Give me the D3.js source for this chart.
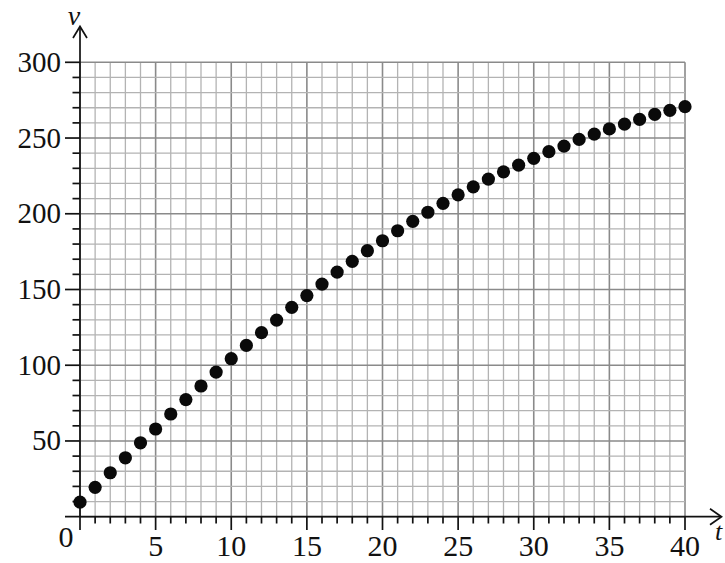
<!DOCTYPE html>
<html>
<head>
<meta charset="utf-8">
<script src="https://cdn.jsdelivr.net/npm/d3@7"></script>
<style>
  body { margin: 0; background: #fff; }
  text { font-family: "Times New Roman", "Liberation Serif", Times, serif; fill: #111; }
</style>
</head>
<body>
<svg id="chart" width="725" height="563"></svg>
<script>
  // data
  const times = d3.range(0, 41)
  const speeds = [
    9.6, 19.4, 29.0, 38.9, 48.8, 57.9, 67.8, 77.3, 86.3, 95.5,
    104.3, 113.1, 121.5, 129.8, 138.2, 146.0, 153.6, 161.5, 168.6, 175.6,
    182.2, 188.8, 195.0, 201.0, 206.9, 212.5, 217.8, 222.9, 227.7, 232.1,
    236.6, 241.0, 244.7, 249.1, 252.6, 256.0, 259.2, 262.3, 265.6, 268.3,
    270.7
  ]
  const xTickLabels = [0, 5, 10, 15, 20, 25, 30, 35, 40]
  const yTickLabels = [50, 100, 150, 200, 250, 300]

  const svg = d3.select('#chart')

  const x = d3.scaleLinear().domain([0, 40]).range([80, 685])
  const y = d3.scaleLinear().domain([0, 300]).range([516.7, 62.3])

  // grid
  const grid = svg.append('g')
  grid.selectAll('line.vx')
    .data(d3.range(0, 41))
    .enter().append('line')
    .attr('x1', d => x(d)).attr('x2', d => x(d))
    .attr('y1', y(0)).attr('y2', y(300))
    .attr('stroke', d => d % 5 === 0 ? '#8a8a8a' : '#b3b3b3')
    .attr('stroke-width', d => d % 5 === 0 ? 1.6 : 1.3)
  grid.selectAll('line.hy')
    .data(d3.range(0, 301, 10))
    .enter().append('line')
    .attr('y1', d => y(d)).attr('y2', d => y(d))
    .attr('x1', x(0)).attr('x2', x(40))
    .attr('stroke', d => d % 50 === 0 ? '#8a8a8a' : '#b3b3b3')
    .attr('stroke-width', d => d % 50 === 0 ? 1.6 : 1.3)

  // axes
  const ax = svg.append('g').attr('stroke', '#111').attr('fill', 'none').attr('stroke-width', 1.7)
  ax.append('line').attr('x1', 65).attr('x2', 721).attr('y1', y(0)).attr('y2', y(0))
  ax.append('line').attr('x1', x(0)).attr('x2', x(0)).attr('y1', 530).attr('y2', 27)
  ax.append('path').attr('d', `M710,${y(0) - 8}L721.5,${y(0)}L710,${y(0) + 8}`)
  ax.append('path').attr('d', `M${x(0) - 7},38L${x(0)},26.5L${x(0) + 7},38`)

  // x ticks
  ax.selectAll('line.xt')
    .data(d3.range(1, 41))
    .enter().append('line')
    .attr('x1', d => x(d)).attr('x2', d => x(d))
    .attr('y1', y(0)).attr('y2', d => d % 5 === 0 ? 530 : 523.5)
  // y ticks
  ax.selectAll('line.yt')
    .data(d3.range(10, 301, 10))
    .enter().append('line')
    .attr('y1', d => y(d)).attr('y2', d => y(d))
    .attr('x1', x(0)).attr('x2', d => d % 50 === 0 ? 65 : 72.5)

  // tick labels
  svg.selectAll('text.xl')
    .data(xTickLabels)
    .enter().append('text')
    .attr('x', d => d === 0 ? 66 : x(d))
    .attr('y', d => d === 0 ? 547 : 556)
    .attr('text-anchor', 'middle')
    .attr('font-size', 30)
    .text(d => d)
  svg.selectAll('text.yl')
    .data(yTickLabels)
    .enter().append('text')
    .attr('x', 61)
    .attr('y', d => y(d) + 9.5)
    .attr('text-anchor', 'end')
    .attr('font-size', 29)
    .text(d => d)

  // axis names
  svg.append('text').attr('x', 74).attr('y', 25).attr('text-anchor', 'middle')
    .attr('font-size', 28).attr('font-style', 'italic').text('v')
  svg.append('text').attr('x', 715).attr('y', 540)
    .attr('font-size', 26).attr('font-style', 'italic').text('t')

  // points
  svg.append('g').selectAll('circle')
    .data(times)
    .enter().append('circle')
    .attr('cx', d => x(d))
    .attr('cy', (d, i) => y(speeds[i]))
    .attr('r', 6.6)
    .attr('fill', '#0a0a0a')
</script>
</body>
</html>
